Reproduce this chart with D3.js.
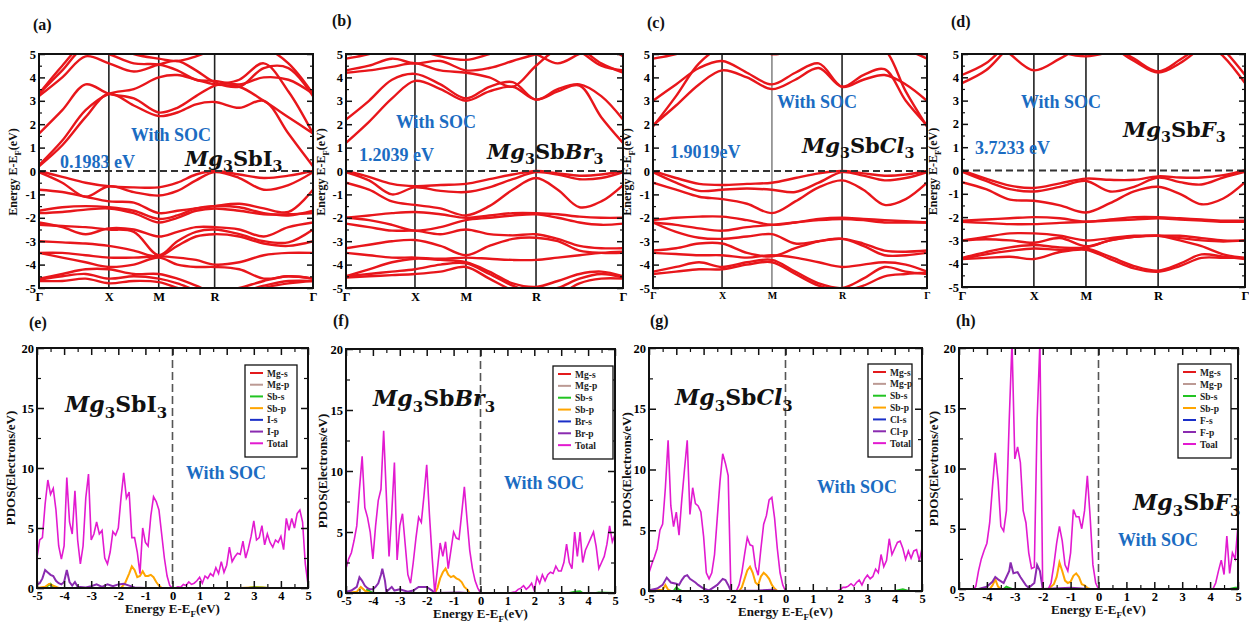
<!DOCTYPE html>
<html><head><meta charset="utf-8">
<script src="https://cdn.jsdelivr.net/npm/d3@7"></script>
<style>
body{margin:0;background:#fff}
svg{display:block}
text{font-family:"Liberation Serif","Times New Roman",serif;font-weight:bold}
</style>
</head><body>
<script>
// ===================== DATA =====================
// High-symmetry path labels and their fractional positions in each band panel
const kLabels = ["Γ","X","M","R","Γ"];
const kFracA = [0, 0.255, 0.437, 0.641, 1];
const kFracB = [0, 0.249, 0.433, 0.686, 1];
const kFracC = [0, 0.252, 0.434, 0.690, 1];
const kFracD = [0, 0.254, 0.438, 0.693, 1];
// sample nodes along the path: [segment, fraction of segment]
const nodeSeg = [0,0,0,1,1,2,2,2,3,3,3,3,4];
const nodeT   = [0,1/3,2/3,0,0.5,0,1/3,2/3,0,0.25,0.5,0.75,0];
const energyTicks = [-5,-4,-3,-2,-1,0,1,2,3,4,5];

// Band energies (eV) at the 13 nodes: Γ .. X . M .. R ... Γ
const bandsA = [
 [0.2,1.1,2.3,3.3,2.8,2.35,2.5,2.85,2.95,2.7,3.0,1.6,0.2],
 [0.25,1.3,2.6,3.3,3.5,4.0,4.1,3.9,3.7,3.6,3.0,2.3,1.6],
 [1.6,2.6,3.7,3.3,3.1,2.5,2.7,3.2,3.65,3.9,4.6,3.4,1.6],
 [3.2,4.0,4.9,4.6,4.25,4.55,4.7,4.3,3.8,3.6,4.4,4.4,3.2],
 [3.3,4.3,5.3,5.0,4.6,4.55,4.3,3.9,3.85,3.7,4.0,3.9,3.3],
 [3.3,4.5,5.5,5.5,5.0,4.8,4.7,4.9,5.2,5.5,5.3,4.6,3.3],
 [0,-0.25,-0.5,-0.65,-0.7,-0.7,-0.5,-0.15,0,-0.15,-0.3,-0.2,0],
 [-0.05,-0.5,-1.1,-0.65,-0.9,-1.05,-0.85,-0.4,-0.05,-0.3,-0.8,-0.6,-0.05],
 [-0.8,-0.9,-1.1,-1.3,-1.35,-1.8,-1.7,-1.6,-1.5,-1.4,-1.6,-1.75,-0.8],
 [-1.7,-1.55,-1.5,-1.55,-1.7,-2.05,-1.9,-1.6,-1.5,-1.55,-1.8,-1.9,-1.7],
 [-1.8,-1.75,-1.65,-1.6,-1.8,-2.2,-2.0,-1.7,-1.6,-1.7,-1.85,-1.85,-1.8],
 [-2.2,-2.4,-2.7,-2.45,-2.5,-2.8,-2.6,-2.4,-2.4,-2.5,-2.8,-2.4,-2.2],
 [-2.3,-2.35,-2.4,-2.5,-2.6,-3.6,-3.0,-2.6,-2.5,-2.7,-3.0,-3.05,-2.5],
 [-3.0,-3.05,-3.1,-3.2,-3.4,-3.65,-3.2,-2.8,-2.7,-2.8,-3.1,-3.2,-3.0],
 [-3.5,-3.5,-3.6,-3.7,-3.7,-3.65,-3.7,-3.8,-4.0,-3.9,-3.6,-3.5,-3.5],
 [-3.5,-3.7,-3.9,-4.1,-4.0,-3.7,-4.0,-4.1,-4.1,-4.2,-4.6,-4.5,-4.6],
 [-4.6,-4.4,-4.2,-4.2,-4.4,-4.4,-4.6,-4.9,-5.2,-5.0,-4.7,-4.5,-4.6],
 [-4.65,-4.5,-4.4,-4.6,-4.5,-4.6,-4.8,-5.1,-5.3,-5.2,-4.9,-4.7,-4.7],
 [-4.7,-4.7,-4.6,-4.8,-4.7,-4.75,-5.0,-5.3,-5.5,-5.4,-5.0,-4.8,-4.7]
];
const bandsB = [
 [1.2,2.1,3.1,3.85,3.5,3.0,3.4,3.6,3.05,3.4,3.65,2.3,1.2],
 [2.2,3.0,3.9,4.15,3.7,3.1,3.6,3.8,3.05,3.5,3.7,3.2,2.2],
 [4.2,4.3,4.45,4.6,4.3,4.2,4.0,3.6,4.5,5.2,5.2,4.6,4.2],
 [4.3,4.5,4.8,4.6,4.7,4.3,4.4,4.7,5.0,5.3,5.1,4.5,4.3],
 [4.8,5.0,5.3,5.2,4.9,4.75,5.0,5.3,5.0,4.6,5.0,5.3,4.9],
 [0,-0.25,-0.55,-0.65,-0.6,-0.55,-0.35,-0.15,0,-0.1,-0.2,-0.15,0],
 [-0.05,-0.4,-1.0,-0.7,-0.85,-0.9,-0.7,-0.35,-0.05,-0.15,-0.35,-0.3,-0.05],
 [-0.5,-0.8,-1.3,-1.45,-1.6,-1.9,-1.5,-0.8,-0.3,-0.8,-1.55,-1.3,-0.6],
 [-2.0,-1.9,-1.8,-1.75,-1.85,-2.0,-1.9,-1.8,-1.8,-1.85,-1.95,-2.0,-2.0],
 [-2.0,-2.1,-2.3,-2.55,-2.4,-2.1,-2.0,-1.9,-1.85,-2.0,-2.2,-2.3,-2.25],
 [-2.25,-2.4,-2.55,-2.55,-2.7,-2.5,-2.7,-2.75,-2.7,-2.9,-3.2,-3.3,-3.3],
 [-3.3,-3.15,-3.0,-2.95,-3.2,-3.6,-3.2,-2.9,-2.85,-3.0,-3.4,-3.5,-3.5],
 [-3.5,-3.6,-3.7,-3.7,-3.75,-3.7,-3.75,-3.8,-3.8,-3.7,-3.6,-3.5,-3.45],
 [-4.5,-4.2,-3.9,-3.75,-3.8,-3.9,-4.3,-4.8,-4.95,-4.7,-4.4,-4.3,-4.5],
 [-4.5,-4.4,-4.3,-4.2,-4.0,-3.95,-4.4,-4.9,-5.2,-5.0,-4.6,-4.4,-4.55],
 [-4.55,-4.5,-4.45,-4.4,-4.3,-4.1,-4.6,-5.1,-5.4,-5.3,-4.8,-4.6,-4.6]
];
const bandsC = [
 [1.95,2.8,3.7,4.3,4.0,3.5,3.9,4.4,3.6,4.1,4.35,3.0,1.95],
 [3.0,3.7,4.4,4.7,4.2,3.7,4.2,4.6,3.6,3.9,4.1,3.7,3.0],
 [1.9,3.2,4.6,5.3,5.2,5.0,5.1,5.3,5.4,5.5,5.2,3.4,1.9],
 [4.8,5.0,5.3,5.4,5.2,5.0,5.1,5.3,5.4,5.5,5.5,5.2,4.8],
 [0,-0.3,-0.55,-0.6,-0.55,-0.5,-0.3,-0.1,0,-0.1,-0.2,-0.15,0],
 [-0.05,-0.5,-0.85,-0.8,-0.75,-0.8,-0.9,-0.5,-0.05,-0.2,-0.4,-0.3,-0.05],
 [-0.5,-0.8,-1.1,-1.2,-1.4,-1.8,-1.3,-0.7,-0.4,-0.8,-1.45,-1.2,-0.5],
 [-2.1,-2.0,-1.95,-1.95,-2.1,-2.3,-2.2,-2.05,-2.0,-2.05,-2.1,-2.15,-2.2],
 [-2.2,-2.3,-2.45,-2.55,-2.4,-2.3,-2.2,-2.1,-2.05,-2.1,-2.2,-2.2,-2.2],
 [-2.2,-2.6,-2.85,-2.9,-2.8,-2.7,-3.1,-3.0,-2.9,-3.1,-3.4,-3.45,-3.4],
 [-3.4,-3.3,-3.1,-3.1,-3.5,-3.65,-3.3,-3.0,-2.9,-3.2,-3.6,-3.6,-3.5],
 [-3.5,-3.55,-3.6,-3.6,-3.7,-3.6,-3.7,-3.9,-4.1,-4.0,-3.9,-4.0,-4.3],
 [-4.3,-4.1,-3.9,-4.1,-3.9,-3.8,-4.3,-4.8,-5.0,-4.6,-4.1,-4.3,-4.4],
 [-4.4,-4.3,-4.2,-4.2,-4.0,-3.9,-4.4,-4.9,-5.1,-4.9,-4.5,-4.4,-4.35]
];
const bandsD = [
 [3.75,4.3,5.3,5.8,5.6,5.5,5.6,5.5,5.3,5.6,5.6,4.9,3.75],
 [4.1,4.6,5.5,6.0,6.0,6.0,6.0,6.0,6.0,6.0,6.0,5.2,4.1],
 [6.0,5.8,5.0,4.3,4.8,5.4,5.3,4.7,4.2,4.6,5.3,6.0,6.0],
 [6.0,6.0,6.0,5.6,5.1,4.9,5.1,5.5,5.5,5.5,5.6,6.0,6.0],
 [6.0,6.0,6.0,6.0,6.0,5.8,5.4,4.8,4.25,4.75,5.4,6.0,6.0],
 [0,-0.35,-0.65,-0.75,-0.55,-0.35,-0.4,-0.4,-0.25,-0.3,-0.3,-0.2,0],
 [-0.05,-0.45,-0.8,-0.9,-0.7,-0.45,-0.9,-0.7,-0.3,-0.5,-0.6,-0.3,-0.05],
 [-0.5,-0.8,-1.25,-1.3,-1.5,-1.8,-1.4,-0.9,-0.7,-1.0,-1.45,-1.2,-0.5],
 [-2.15,-2.1,-2.05,-2.0,-2.05,-2.2,-2.1,-2.0,-2.0,-2.05,-2.1,-2.15,-2.15],
 [-2.2,-2.25,-2.3,-2.3,-2.25,-2.2,-2.15,-2.1,-2.05,-2.1,-2.15,-2.2,-2.2],
 [-3.0,-2.85,-2.7,-2.7,-2.8,-3.0,-2.9,-2.8,-2.8,-2.8,-2.9,-3.0,-3.0],
 [-3.0,-2.95,-3.0,-3.1,-2.9,-3.25,-3.0,-2.85,-2.8,-2.9,-3.0,-3.05,-3.0],
 [-3.75,-3.5,-3.3,-3.2,-3.3,-3.3,-3.0,-2.85,-2.8,-3.0,-3.25,-3.6,-3.75],
 [-3.8,-3.6,-3.45,-3.35,-3.4,-3.35,-3.7,-4.1,-4.3,-4.0,-3.6,-3.7,-3.8],
 [-3.8,-3.75,-3.7,-3.8,-3.5,-3.4,-3.8,-4.2,-4.35,-4.1,-3.75,-3.75,-3.75]
];
const gapLabels = ["0.1983 eV","1.2039 eV","1.9019eV","3.7233 eV"];

// PDOS: energy grid -5..5 step 0.1 (101 points) for total DOS
const pdosTicksX = [-5,-4,-3,-2,-1,0,1,2,3,4,5];
const pdosTicksY = [0,5,10,15,20];
const totalE = [2.5,4.0,4.2,7.0,9.0,7.8,8.3,6.5,3.5,2.4,
 3.5,9.2,5.5,4.5,8.1,4.0,2.0,3.5,7.5,9.5,
 4.0,4.5,5.5,4.5,4.8,2.5,2.0,3.0,4.7,4.4,
 5.0,7.5,9.6,7.5,8.0,4.2,4.2,3.0,1.2,5.0,
 3.8,3.5,6.0,7.6,7.2,6.5,4.5,2.5,1.0,0.2,
 0,0,0.1,0.05,0.3,0.2,0.5,0.3,0.4,0.6,
 0.9,0.4,1.0,0.8,1.2,1.0,1.7,1.2,2.2,1.3,
 1.9,3.4,2.2,2.6,2.9,2.8,3.9,2.5,3.3,4.3,
 5.6,4.0,4.2,5.2,3.6,4.5,3.8,3.4,4.0,3.8,
 4.3,3.2,5.8,4.8,5.8,5.0,6.2,6.5,5.5,2.0,
 0.3];
const totalF = [2.0,2.8,3.3,4.3,5.5,8.5,11.2,7.0,6.2,5.0,
 2.8,5.5,7.6,8.5,13.3,8.0,3.0,6.5,10.7,2.7,
 5.5,6.5,4.0,1.5,0.8,2.5,4.5,6.2,5.8,8.0,
 10.5,6.5,3.0,0.0,2.0,4.1,3.0,4.2,2.0,3.5,
 5.0,4.5,4.4,6.5,8.7,6.0,3.5,2.0,1.0,0.4,
 0,0,0,0,0,0,0,0,0,0,
 0,0,0.05,0.1,0.3,0.4,0.6,0.3,0.5,0.8,
 0.2,1.3,0.8,1.5,1.0,1.5,1.7,1.6,2.2,1.8,
 1.8,2.5,4.0,2.5,2.0,5.0,3.0,5.0,2.5,3.5,
 4.0,4.5,5.0,3.8,2.0,2.5,3.0,4.0,5.5,4.2,
 4.8];
const totalG = [1.5,2.2,2.8,3.5,5.0,5.5,8.5,12.4,7.0,5.3,
 6.5,4.6,7.5,10.0,12.4,6.3,8.5,7.2,7.0,6.5,
 4.5,1.5,1.0,1.5,3.0,6.0,9.0,11.3,10.5,9.5,
 0,0,0,0.5,1.5,3.0,4.4,3.8,3.7,2.0,
 1.3,3.5,5.5,6.2,7.5,7.7,6.0,3.5,1.5,0.5,
 0,0,0,0,0,0,0,0,0,0,
 0,0,0,0,0,0,0,0,0,0,
 0.1,0.3,0.3,0.4,0.6,0.4,0.7,0.9,0.5,1.0,
 1.3,1.0,1.2,1.8,1.5,3.0,2.0,2.5,4.3,3.0,
 3.5,4.0,4.1,3.5,2.6,3.3,2.7,3.3,3.4,2.5,
 3.5];
const totalH = [0,0,0,0,0,0,0.2,1.5,2.5,3.2,
 3.8,5.5,8.5,11.3,9.0,5.2,4.8,6.5,14.0,20.5,
 10.8,11.8,10.5,6.5,5.5,3.0,1.7,1.8,14.0,20.5,
 0,0,0,0.5,2.0,3.8,5.2,4.0,2.0,1.5,
 3.0,6.6,6.0,6.0,5.0,6.5,9.4,6.0,2.0,0.5,
 0,0,0,0,0,0,0,0,0,0,
 0,0,0,0,0,0,0,0,0,0,
 0,0,0,0,0,0,0,0,0,0,
 0,0,0,0,0,0,0,0,0,0,
 0,0,0.5,1.5,2.4,1.2,4.4,1.3,3.0,2.5,
 5.3];

// Partial DOS as [energy, value] points
const zeroPdos = [[-5,0],[5,0]];
const sbS_E = [[-5,0],[-4.7,0],[-4.6,0.2],[-4.5,0.35],[-4.4,0.1],[-4.3,0],[2.8,0],[3.0,0.08],[3.3,0.05],[3.5,0],[5,0]];
const sbP_E = [[-5,0],[-4.7,0.1],[-4.55,0.35],[-4.4,0.2],[-4.2,0],[-1.9,0],[-1.75,0.4],[-1.6,1.2],[-1.5,1.8],[-1.4,1.5],[-1.3,0.9],[-1.2,1.0],[-1.1,1.4],[-1.0,1.0],[-0.9,1.0],[-0.8,1.1],[-0.7,0.9],[-0.6,0.5],[-0.5,0.2],[-0.4,0],[2.5,0],[2.9,0.05],[3.3,0.05],[3.6,0],[5,0]];
const xP_E = [[-5,0.3],[-4.9,0.4],[-4.8,0.8],[-4.7,1.5],[-4.6,1.3],[-4.5,1.1],[-4.4,1.0],[-4.3,0.6],[-4.2,0.4],[-4.1,0.3],[-4.0,0.5],[-3.9,1.5],[-3.8,0.5],[-3.7,0.2],[-3.6,0.5],[-3.5,0.1],[-3.2,0.05],[-3.0,0.15],[-2.8,0.3],[-2.6,0.1],[-2.4,0.3],[-2.2,0.15],[-2.0,0.3],[-1.8,0.35],[-1.6,0.2],[-1.4,0.05],[-1.0,0],[5,0]];
const sbS_F = [[-5,0],[-4.3,0],[-4.2,0.3],[-4.1,0.1],[-4.0,0],[3.3,0],[3.5,0.1],[3.7,0.15],[3.8,0],[4.3,0],[4.4,0.05],[5,0]];
const sbP_F = [[-5,0],[-4.6,0.1],[-4.45,0.5],[-4.3,0.2],[-4.1,0],[-1.7,0],[-1.6,0.4],[-1.5,1.2],[-1.4,1.7],[-1.3,2.0],[-1.2,1.5],[-1.1,1.3],[-1.0,1.4],[-0.9,1.2],[-0.8,1.1],[-0.7,0.9],[-0.6,0.5],[-0.5,0.3],[-0.4,0],[5,0]];
const xP_F = [[-5,0.1],[-4.8,0.2],[-4.6,0.5],[-4.5,1.3],[-4.4,1.0],[-4.3,0.6],[-4.2,0.4],[-4.1,0.3],[-4.0,0.3],[-3.9,0.5],[-3.8,0.8],[-3.7,1.5],[-3.65,2.0],[-3.55,1.0],[-3.5,0.1],[-3.3,0.5],[-3.2,0.2],[-3.0,0.3],[-2.7,0.1],[-2.5,0.2],[-2.3,0.5],[-2.1,0.5],[-2.0,0.5],[-1.8,0.2],[-1.7,0],[-0.8,0.05],[-0.5,0],[5,0]];
const sbS_G = [[-5,0],[-4.1,0],[-4.0,0.3],[-3.9,0.1],[-3.8,0],[4.0,0],[4.3,0.15],[4.5,0],[5,0]];
const sbP_G = [[-5,0],[-4.5,0.1],[-4.4,0.5],[-4.3,0.1],[-4.2,0],[-1.7,0],[-1.6,0.3],[-1.5,1.0],[-1.4,1.7],[-1.3,2.0],[-1.2,1.5],[-1.1,0.7],[-1.0,0.5],[-0.9,1.2],[-0.8,1.5],[-0.7,1.3],[-0.6,1.0],[-0.5,0.5],[-0.4,0.2],[-0.3,0],[5,0]];
const xP_G = [[-5,0.05],[-4.7,0.2],[-4.5,0.5],[-4.35,1.1],[-4.2,0.7],[-4.0,0.6],[-3.9,0.5],[-3.8,0.9],[-3.7,1.2],[-3.6,1.3],[-3.5,1.0],[-3.3,0.7],[-3.2,0.5],[-3.0,0.2],[-2.8,0.05],[-2.5,0.5],[-2.3,1.0],[-2.2,0.9],[-2.1,0.5],[-2.0,0],[-1.0,0.05],[-0.5,0.1],[-0.3,0],[5,0]];
const sbS_H = [[-5,0],[-3.4,0],[-3.3,0.2],[-3.2,0.1],[-3.1,0],[4.7,0],[4.9,0.1],[5,0.1]];
const sbP_H = [[-5,0],[-3.9,0],[-3.8,0.3],[-3.7,0.8],[-3.6,0.2],[-3.5,0],[-1.8,0],[-1.6,0.4],[-1.5,1.0],[-1.4,2.2],[-1.3,1.5],[-1.2,0.7],[-1.1,0.5],[-1.0,0.6],[-0.9,1.1],[-0.8,1.3],[-0.7,1.0],[-0.6,0.4],[-0.5,0.3],[-0.4,0.1],[-0.3,0],[5,0]];
const xP_H = [[-5,0],[-4.3,0],[-4.0,0.2],[-3.8,0.6],[-3.7,1.0],[-3.6,0.8],[-3.4,0.5],[-3.2,1.5],[-3.15,2.2],[-3.05,1.3],[-2.9,1.4],[-2.8,1.0],[-2.6,0.3],[-2.5,0.1],[-2.3,0.5],[-2.2,2.0],[-2.1,1.5],[-2.0,0],[-1.0,0.1],[-0.6,0.05],[-0.4,0],[5,0]];

const legendE = ["Mg-s","Mg-p","Sb-s","Sb-p","I-s","I-p","Total"];
const legendF = ["Mg-s","Mg-p","Sb-s","Sb-p","Br-s","Br-p","Total"];
const legendG = ["Mg-s","Mg-p","Sb-s","Sb-p","Cl-s","Cl-p","Total"];
const legendH = ["Mg-s","Mg-p","Sb-s","Sb-p","F-s","F-p","Toal"];
const pdosColors = ["#e31a1c","#bc9a94","#22c422","#ffa500","#1a2fc8","#8a2bb0","#e21ad0"];

// ===================== LAYOUT =====================
const W = 1249, H = 623;
const svg = d3.select("body").append("svg").attr("width", W).attr("height", H);
svg.append("rect").attr("width", W).attr("height", H).attr("fill", "#fff");

const compI = [{t:"M",i:1},{t:"g",i:1},{t:"3",s:1},{t:"SbI"},{t:"3",s:1}];
const compBr = [{t:"M",i:1},{t:"g",i:1},{t:"3",s:1},{t:"Sb"},{t:"Br",i:1},{t:"3",s:1}];
const compCl = [{t:"M",i:1},{t:"g",i:1},{t:"3",s:1},{t:"Sb"},{t:"Cl",i:1},{t:"3",s:1}];
const compF = [{t:"M",i:1},{t:"g",i:1},{t:"3",s:1},{t:"Sb"},{t:"F",i:1},{t:"3",s:1}];

const bandPanels = [
 {id:"a", label:"(a)", lx:33, ly:30, left:39, right:313, top:54, bottom:288, ylx:17, comp:compI, cx:185, cy:166, socx:171, socy:141, gx:60, gy:168, kf:kFracA, bands:bandsA, gap:gapLabels[0], mColor:"#222"},
 {id:"b", label:"(b)", lx:332, ly:26, left:346, right:623, top:54, bottom:288, ylx:325, comp:compBr, cx:487, cy:159, socx:436, socy:128, gx:359, gy:161, kf:kFracB, bands:bandsB, gap:gapLabels[1], mColor:"#222"},
 {id:"c", label:"(c)", lx:647, ly:28, left:653, right:927, top:54, bottom:288, ylx:631, comp:compCl, cx:802, cy:153, socx:817, socy:108, gx:670, gy:158, kf:kFracC, bands:bandsC, gap:gapLabels[2], mColor:"#888"},
 {id:"d", label:"(d)", lx:951, ly:27, left:962, right:1245, top:54, bottom:287, ylx:937, comp:compF, cx:1123, cy:137, socx:1061, socy:108, gx:975, gy:154, kf:kFracD, bands:bandsD, gap:gapLabels[3], mColor:"#222"}
];

const pdosPanels = [
 {id:"e", label:"(e)", lx:29, ly:328, left:37, right:308, top:348, bottom:588, ylx:15, yText:"PDOS(Electrons/eV)", leg:{x:245,y:365,w:52,h:92}, names:legendE, comp:compI, cx:65, cy:412, socx:226, socy:479,
  series:[zeroPdos,zeroPdos,sbS_E,sbP_E,zeroPdos,xP_E], total:totalE},
 {id:"f", label:"(f)", lx:333, ly:326, left:346, right:615, top:349, bottom:593, ylx:327, yText:"PDOS(Electrons/eV)", leg:{x:553,y:366,w:60,h:93}, names:legendF, comp:compBr, cx:373, cy:406, socx:544, socy:489,
  series:[zeroPdos,zeroPdos,sbS_F,sbP_F,zeroPdos,xP_F], total:totalF},
 {id:"g", label:"(g)", lx:650, ly:326, left:649, right:922, top:348, bottom:591, ylx:631, yText:"PDOS(Electrons/eV)", leg:{x:868,y:364,w:44,h:93}, names:legendG, comp:compCl, cx:675, cy:405, socx:857, socy:493,
  series:[zeroPdos,zeroPdos,sbS_G,sbP_G,zeroPdos,xP_G], total:totalG},
 {id:"h", label:"(h)", lx:956, ly:326, left:959, right:1238, top:348, bottom:589, ylx:938, yText:"PDOS(Elevtrons/eV)", leg:{x:1178,y:364,w:53,h:94}, names:legendH, comp:compF, cx:1133, cy:510, socx:1158, socy:546,
  series:[zeroPdos,zeroPdos,sbS_H,sbP_H,zeroPdos,xP_H], total:totalH}
];

const SOC_COLOR = "#1b6cc2";

function compound(g, x, y, parts, size) {
  const t = g.append("text").attr("x", x).attr("y", y).attr("font-size", size)
    .style("font-family", '"DejaVu Serif",serif').style("font-weight", "bold").attr("fill", "#111");
  let shifted = false;
  parts.forEach(p => {
    const s = t.append("tspan").text(p.t);
    if (p.i) s.style("font-style", "italic");
    if (p.s) { s.attr("font-size", size * 0.68).attr("dy", size * 0.25); shifted = true; }
    else if (shifted) { s.attr("dy", -size * 0.25); shifted = false; }
  });
}

function subLabel(g, x, y, pre, sub, post, size, rotate) {
  const t = g.append("text").attr("font-size", size).attr("text-anchor", "middle").attr("fill", "#111");
  if (rotate) t.attr("transform", `translate(${x},${y}) rotate(-90)`);
  else t.attr("x", x).attr("y", y);
  t.append("tspan").text(pre);
  t.append("tspan").text(sub).attr("font-size", size * 0.7).attr("dy", size * 0.3);
  t.append("tspan").text(post).attr("dy", -size * 0.3);
}

function kAt(kf, i) {
  const s = nodeSeg[i], t = nodeT[i];
  if (s >= kf.length - 1) return kf[kf.length - 1];
  return kf[s] + t * (kf[s + 1] - kf[s]);
}

// ===================== BAND PANELS =====================
bandPanels.forEach(P => {
  const g = svg.append("g");
  const x = d3.scaleLinear().domain([0, 1]).range([P.left, P.right]);
  const y = d3.scaleLinear().domain([-5, 5]).range([P.bottom, P.top]);
  const clipId = "clip" + P.id;
  svg.append("clipPath").attr("id", clipId).append("rect")
    .attr("x", P.left).attr("y", P.top).attr("width", P.right - P.left).attr("height", P.bottom - P.top);

  g.selectAll("line.kv").data(P.kf.slice(1, -1)).join("line")
    .attr("x1", d => x(d)).attr("x2", d => x(d)).attr("y1", P.top).attr("y2", P.bottom)
    .attr("stroke", (d, i) => i === 1 ? P.mColor : "#222").attr("stroke-width", 1.6);

  const line = d3.line().x(d => x(d[0])).y(d => y(d[1])).curve(d3.curveCatmullRom.alpha(0.5));
  g.append("g").attr("clip-path", `url(#${clipId})`).selectAll("path").data(P.bands).join("path")
    .attr("d", b => line(b.map((e, i) => [kAt(P.kf, i), e])))
    .attr("fill", "none").attr("stroke", "#e8161b").attr("stroke-width", 2.4);

  g.append("line").attr("x1", P.left).attr("x2", P.right).attr("y1", y(0)).attr("y2", y(0))
    .attr("stroke", "#333").attr("stroke-width", 2).attr("stroke-dasharray", "7,4");

  const fmt = d => String(d);
  const aL = g.append("g").attr("transform", `translate(${P.left},0)`)
    .call(d3.axisLeft(y).tickValues(energyTicks).tickSize(-6).tickPadding(3).tickFormat(fmt));
  aL.select(".domain").remove();
  aL.attr("font-size", 12.5);
  aL.selectAll("line").attr("stroke", "#111").attr("stroke-width", 1.5);
  const mL = g.append("g").attr("transform", `translate(${P.left},0)`)
    .call(d3.axisLeft(y).tickValues(d3.range(-4.5, 5, 1)).tickSize(-3).tickFormat(""));
  mL.select(".domain").remove();
  mL.selectAll("line").attr("stroke", "#111").attr("stroke-width", 1.2);
  const aR = g.append("g").attr("transform", `translate(${P.right},0)`)
    .call(d3.axisRight(y).tickValues(energyTicks).tickSize(-6).tickFormat(""));
  aR.select(".domain").remove();
  aR.selectAll("line").attr("stroke", "#111").attr("stroke-width", 1.5);
  const mR = g.append("g").attr("transform", `translate(${P.right},0)`)
    .call(d3.axisRight(y).tickValues(d3.range(-4.5, 5, 1)).tickSize(-3).tickFormat(""));
  mR.select(".domain").remove();
  mR.selectAll("line").attr("stroke", "#111").attr("stroke-width", 1.2);

  const aB = g.append("g").attr("transform", `translate(0,${P.bottom})`)
    .call(d3.axisBottom(x).tickValues(P.kf).tickSize(0).tickPadding(4).tickFormat((d, i) => kLabels[i]));
  aB.select(".domain").remove();
  aB.attr("font-size", P.id === "c" ? 10 : 12.5);

  g.append("rect").attr("x", P.left).attr("y", P.top).attr("width", P.right - P.left).attr("height", P.bottom - P.top)
    .attr("fill", "none").attr("stroke", "#111").attr("stroke-width", 2);

  subLabel(g, P.ylx, (P.top + P.bottom) / 2 + 1, "Energy E-E", "F", "(eV)", 12, true);

  g.append("text").attr("x", P.lx).attr("y", P.ly).attr("font-size", 16).attr("fill", "#111").text(P.label);
  g.append("text").attr("x", P.socx).attr("y", P.socy).attr("text-anchor", "middle").attr("font-size", 18)
    .attr("fill", SOC_COLOR).text("With SOC");
  g.append("text").attr("x", P.gx).attr("y", P.gy).attr("font-size", 18).attr("fill", SOC_COLOR).text(P.gap);
  compound(g, P.cx, P.cy, P.comp, 21);
});

// ===================== PDOS PANELS =====================
const energyGrid = d3.range(-50, 51).map(i => i / 10);
pdosPanels.forEach(P => {
  const g = svg.append("g");
  const x = d3.scaleLinear().domain([-5, 5]).range([P.left, P.right]);
  const y = d3.scaleLinear().domain([0, 20]).range([P.bottom, P.top]);
  const clipId = "clip" + P.id;
  svg.append("clipPath").attr("id", clipId).append("rect")
    .attr("x", P.left).attr("y", P.top).attr("width", P.right - P.left).attr("height", P.bottom - P.top);

  const line = d3.line().x(d => x(d[0])).y(d => y(d[1]));
  const cg = g.append("g").attr("clip-path", `url(#${clipId})`);
  P.series.forEach((s, i) => {
    cg.append("path").attr("d", line(s)).attr("fill", "none").attr("stroke", pdosColors[i]).attr("stroke-width", 2);
  });
  cg.append("path").attr("d", line(energyGrid.map((e, i) => [e, P.total[i]])))
    .attr("fill", "none").attr("stroke", pdosColors[6]).attr("stroke-width", 1.6);

  g.append("line").attr("x1", x(0)).attr("x2", x(0)).attr("y1", P.top).attr("y2", P.bottom)
    .attr("stroke", "#555").attr("stroke-width", 1.6).attr("stroke-dasharray", "8,4");

  const fmt = d => String(d);
  const styleTicks = (sel, w) => { sel.select(".domain").remove(); sel.selectAll("line").attr("stroke", "#111").attr("stroke-width", w); };
  const aL = g.append("g").attr("transform", `translate(${P.left},0)`)
    .call(d3.axisLeft(y).tickValues(pdosTicksY).tickSize(-7).tickPadding(3).tickFormat(fmt));
  styleTicks(aL, 1.5); aL.attr("font-size", 12.5);
  const mL = g.append("g").attr("transform", `translate(${P.left},0)`)
    .call(d3.axisLeft(y).tickValues([2.5, 7.5, 12.5, 17.5]).tickSize(-4).tickFormat(""));
  styleTicks(mL, 1.2);
  const aR = g.append("g").attr("transform", `translate(${P.right},0)`)
    .call(d3.axisRight(y).tickValues(pdosTicksY).tickSize(-7).tickFormat(""));
  styleTicks(aR, 1.5);
  const mR = g.append("g").attr("transform", `translate(${P.right},0)`)
    .call(d3.axisRight(y).tickValues([2.5, 7.5, 12.5, 17.5]).tickSize(-4).tickFormat(""));
  styleTicks(mR, 1.2);
  const aB = g.append("g").attr("transform", `translate(0,${P.bottom})`)
    .call(d3.axisBottom(x).tickValues(pdosTicksX).tickSize(-7).tickPadding(3).tickFormat(fmt));
  styleTicks(aB, 1.5); aB.attr("font-size", 12.5);
  const mB = g.append("g").attr("transform", `translate(0,${P.bottom})`)
    .call(d3.axisBottom(x).tickValues(d3.range(-4.5, 5, 1)).tickSize(-4).tickFormat(""));
  styleTicks(mB, 1.2);
  const aT = g.append("g").attr("transform", `translate(0,${P.top})`)
    .call(d3.axisTop(x).tickValues(pdosTicksX).tickSize(-7).tickFormat(""));
  styleTicks(aT, 1.5);
  const mT = g.append("g").attr("transform", `translate(0,${P.top})`)
    .call(d3.axisTop(x).tickValues(d3.range(-4.5, 5, 1)).tickSize(-4).tickFormat(""));
  styleTicks(mT, 1.2);

  g.append("rect").attr("x", P.left).attr("y", P.top).attr("width", P.right - P.left).attr("height", P.bottom - P.top)
    .attr("fill", "none").attr("stroke", "#111").attr("stroke-width", 2);

  const L = P.leg;
  const lg = g.append("g");
  lg.append("rect").attr("x", L.x).attr("y", L.y).attr("width", L.w).attr("height", L.h)
    .attr("fill", "#fff").attr("stroke", "#111").attr("stroke-width", 1.3);
  const rowH = (L.h - 10) / 7;
  P.names.forEach((n, i) => {
    const yy = L.y + 8 + rowH * i;
    lg.append("line").attr("x1", L.x + 5).attr("x2", L.x + 18).attr("y1", yy).attr("y2", yy)
      .attr("stroke", pdosColors[i]).attr("stroke-width", 2);
    lg.append("text").attr("x", L.x + 22).attr("y", yy + 3.5).attr("font-size", 9.5).attr("fill", "#222").text(n);
  });

  g.append("text").attr("x", P.lx).attr("y", P.ly).attr("font-size", 16).attr("fill", "#111").text(P.label);
  g.append("text").attr("transform", `translate(${P.ylx},${(P.top + P.bottom) / 2}) rotate(-90)`)
    .attr("text-anchor", "middle").attr("font-size", 13).attr("fill", "#111").text(P.yText);
  subLabel(g, x(0), P.bottom + 25, "Energy E-E", "F", "(eV)", 13, false);
  g.append("text").attr("x", P.socx).attr("y", P.socy).attr("text-anchor", "middle").attr("font-size", 18)
    .attr("fill", SOC_COLOR).text("With SOC");
  compound(g, P.cx, P.cy, P.comp, 22);
});
</script>
</body></html>
